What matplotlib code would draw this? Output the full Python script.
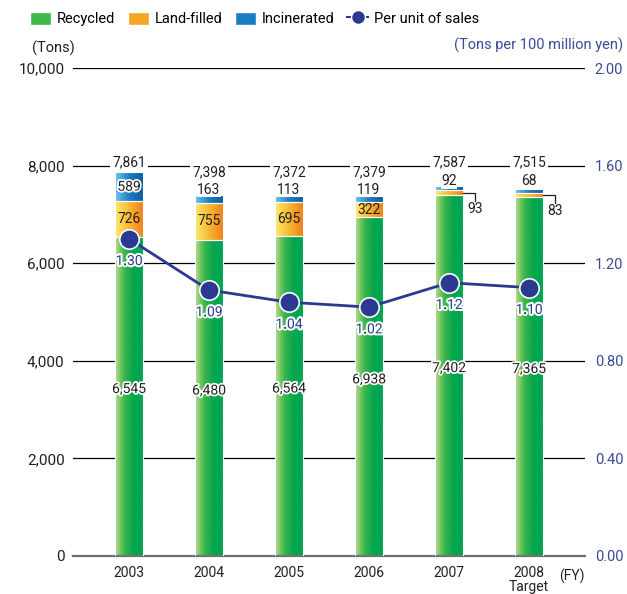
import numpy as np
import matplotlib
matplotlib.use('Agg')
import matplotlib.pyplot as plt
from matplotlib.colors import LinearSegmentedColormap
from matplotlib.lines import Line2D
from matplotlib.patches import Patch
import matplotlib.patheffects as pe

plt.rcParams['font.family'] = ['Liberation Sans Narrow', 'Roboto', 'DejaVu Sans']

years = ['2003', '2004', '2005', '2006', '2007', '2008\nTarget']
recycled = [6545, 6480, 6564, 6938, 7402, 7365]
landfilled = [726, 755, 695, 322, 93, 83]
incinerated = [589, 163, 113, 119, 92, 68]
totals = ['7,861', '7,398', '7,372', '7,379', '7,587', '7,515']
per_unit = [1.30, 1.09, 1.04, 1.02, 1.12, 1.10]

navy = '#2b3990'
blue_txt = '#3b4a96'
dark = '#231f20'

green_cm = LinearSegmentedColormap.from_list('g', ['#b8dc8c', '#3bb54a', '#00a651', '#00a651'])
orange_cm = LinearSegmentedColormap.from_list('o', ['#fde96e', '#f7b733', '#ef7d1a'])
blue_cm = LinearSegmentedColormap.from_list('b', ['#6cc8f0', '#1a7cc1', '#0b5aa2'])

fig = plt.figure(figsize=(6.27, 5.94), dpi=100)
ax = fig.add_axes([0.1164, 0.064, 0.8166, 0.8215])
x = np.arange(len(years))
w = 0.36

grad = np.linspace(0, 1, 64).reshape(1, -1)


def gbar(xs, h, bottom, cmap):
    rects = ax.bar(xs, h, w, bottom=bottom, color='none', edgecolor='white',
                   linewidth=0.8, zorder=3)
    for r in rects:
        im = ax.imshow(grad, cmap=cmap, aspect='auto', zorder=2,
                       extent=(r.get_x(), r.get_x() + r.get_width(),
                               r.get_y(), r.get_y() + r.get_height()))
        im.set_clip_path(r)
    return rects


bot2 = np.array(recycled) + np.array(landfilled)
gbar(x, recycled, 0, green_cm)
gbar(x, landfilled, recycled, orange_cm)
gbar(x, incinerated, bot2, blue_cm)

ax.set_xlim(-0.7, 5.7)
ax.set_ylim(0, 10000)
ax.set_yticks(range(0, 10001, 2000))
ax.set_yticklabels(['0', '2,000', '4,000', '6,000', '8,000', '10,000'])
ax.set_xticks(x)
ax.set_xticklabels(years, fontsize=10, linespacing=1.05, va='top', color=dark)
ax.tick_params(axis='y', length=0, labelsize=11, pad=6, labelcolor=dark)
ax.tick_params(axis='x', length=0, pad=7)
ax.grid(axis='y', color='black', linewidth=0.9)
ax.set_axisbelow(True)
for s in ['top', 'left', 'right']:
    ax.spines[s].set_visible(False)
ax.spines['bottom'].set_color('#6d6e71')
ax.spines['bottom'].set_linewidth(1.6)

stroke = [pe.withStroke(linewidth=2.5, foreground='white')]
fs = 10

# value labels
for i in range(len(years)):
    ty = 8060 if i in (0, 4, 5) else 7870
    ax.text(x[i], ty, totals[i], ha='center', va='center', fontsize=fs,
            color=dark, zorder=5,
            bbox=dict(facecolor='white', edgecolor='none', pad=1.5))
    ax.text(x[i], recycled[i] / 2 + 150, f'{recycled[i]:,}', ha='center',
            va='center', fontsize=fs, color=dark, zorder=5,
            path_effects=stroke)
    if i == 0:
        ax.text(x[i], bot2[i] + incinerated[i] / 2, str(incinerated[i]),
                ha='center', va='center', fontsize=fs, color=dark,
                zorder=5, path_effects=stroke)
    else:
        iy = 7510 if i < 4 else 7680
        ax.text(x[i], iy, str(incinerated[i]), ha='center', va='center',
                fontsize=fs, color=dark, zorder=5,
                bbox=dict(facecolor='white', edgecolor='none', pad=0.5))
    if i < 4:
        ax.text(x[i], recycled[i] + landfilled[i] / 2, str(landfilled[i]),
                ha='center', va='center', fontsize=fs, color=dark,
                zorder=5)
    else:
        yb = recycled[i] + landfilled[i] / 2
        xr = x[i] + w / 2
        ax.plot([xr, xr + 0.14, xr + 0.14], [yb, yb, yb - 180],
                color=dark, lw=0.9, zorder=5)
        ax.text(xr + 0.15, yb - 340, str(landfilled[i]), ha='center',
                va='center', fontsize=fs, color=dark, zorder=5)

ax.text(5.53, -260, '(FY)', ha='center', va='top', fontsize=fs, color=dark)
ax.text(-0.95, 10250, '(Tons)', ha='center', va='bottom', fontsize=10.5,
        color=dark)

ax2 = ax.twinx()
ax2.set_ylim(0, 2)
ax2.set_yticks(np.arange(0, 2.01, 0.4))
ax2.set_yticklabels([f'{v:.2f}' for v in np.arange(0, 2.01, 0.4)])
ax2.tick_params(axis='y', length=0, labelsize=10.5, labelcolor=blue_txt, pad=7)
for s in ax2.spines.values():
    s.set_visible(False)
ax2.plot(x, per_unit, color=navy, lw=2, marker='o', markersize=14,
         markerfacecolor=navy, markeredgecolor='white', markeredgewidth=1.2,
         zorder=4)
for i, v in enumerate(per_unit):
    ax2.annotate(f'{v:.2f}', (x[i], v), xytext=(0, -16),
                 textcoords='offset points', ha='center', va='center',
                 fontsize=fs, color=navy, zorder=6,
                 path_effects=[pe.withStroke(linewidth=3, foreground='white')])
ax2.text(1.075, 1.03, '(Tons per 100 million yen)', transform=ax2.transAxes,
         ha='right', va='bottom', fontsize=10.5, color=blue_txt)

handles = [Patch(facecolor='#3fb54a', edgecolor='white', label='Recycled'),
           Patch(facecolor='#f5a623', edgecolor='white', label='Land-filled'),
           Patch(facecolor='#1a7cc1', edgecolor='white', label='Incinerated'),
           Line2D([0], [0], color=navy, lw=1.5, marker='o', markersize=10,
                  markerfacecolor=navy, markeredgecolor='white',
                  label='Per unit of sales')]
fig.legend(handles=handles, loc='upper left', bbox_to_anchor=(0.03, 1.0),
           ncol=4, frameon=False, fontsize=10.5, handlelength=1.4,
           handleheight=1.0, handletextpad=0.4, columnspacing=0.9,
           borderaxespad=0.4)

fig.savefig('out.png', dpi=100)
